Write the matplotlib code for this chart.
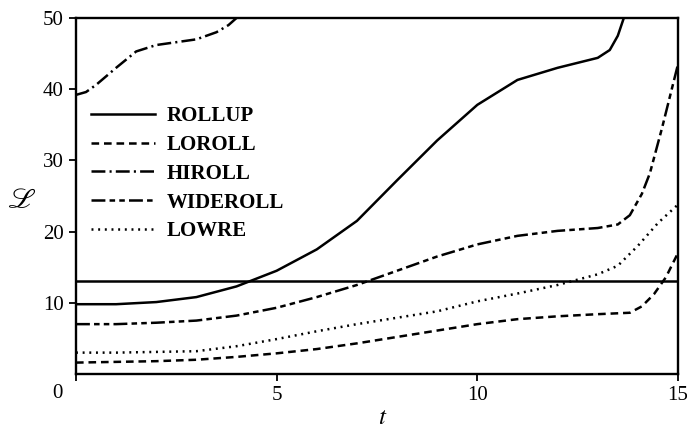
"""
plot.py - L(t) curves for the roll-up runs
"""

import matplotlib
matplotlib.use("Agg")
import matplotlib.pyplot as plt

#============================================
# DATA
#============================================

t_rollup = [0, 1, 2, 3, 4, 5, 6, 7, 8, 9, 10, 11, 12, 12.5, 13, 13.3, 13.5, 13.65, 13.8]
rollup = [9.8, 9.8, 10.1, 10.8, 12.3, 14.5, 17.5, 21.5, 27.2, 32.8, 37.8, 41.3, 43.0, 43.7, 44.4, 45.5, 47.5, 50, 52]

t_loroll = [0, 1, 2, 3, 4, 5, 6, 7, 8, 9, 10, 11, 12, 13, 13.8, 14.1, 14.4, 14.7, 15]
loroll = [1.6, 1.7, 1.8, 2.0, 2.4, 2.9, 3.5, 4.3, 5.2, 6.1, 7.0, 7.7, 8.1, 8.4, 8.6, 9.5, 11.2, 13.6, 17.0]

t_hiroll = [0, 0.25, 0.5, 1, 1.5, 2, 2.5, 3, 3.5, 3.8, 4.0, 4.3]
hiroll = [39.2, 39.6, 40.6, 43.0, 45.3, 46.2, 46.6, 47.0, 48.0, 49.0, 50.0, 52.0]

t_wideroll = [0, 1, 2, 3, 4, 5, 6, 7, 8, 9, 10, 11, 12, 13, 13.5, 13.8, 14.1, 14.3, 14.6, 15]
wideroll = [7.0, 7.0, 7.2, 7.5, 8.2, 9.3, 10.8, 12.5, 14.5, 16.5, 18.2, 19.4, 20.1, 20.5, 21.0, 22.3, 25.3, 28.2, 34.5, 43.5]

t_lowre = [0, 1, 2, 3, 4, 5, 6, 7, 8, 9, 10, 11, 12, 13, 13.5, 14, 14.5, 15]
lowre = [3.0, 3.0, 3.1, 3.2, 3.9, 4.9, 6.0, 7.0, 7.9, 8.8, 10.2, 11.3, 12.5, 14.0, 15.2, 18.0, 21.2, 23.8]

threshold = 13.0

x_ticks = [0, 5, 10, 15]
x_labels = ['', '5', '10', '15']
y_ticks = [10, 20, 30, 40, 50]

#============================================
# STYLE
#============================================

plt.rcParams['font.family'] = ['Liberation Serif', 'DejaVu Serif']
plt.rcParams['mathtext.fontset'] = 'stix'
plt.rcParams['lines.scale_dashes'] = False

LW = 1.8

#============================================
# PLOT
#============================================

fig = plt.figure(figsize=(6.87, 4.28), dpi=100)
ax = fig.add_axes([0.1106, 0.1262, 0.8763, 0.8318])

ax.plot(t_rollup, rollup, color='black', lw=LW, ls='-', label='ROLLUP')
ax.plot(t_loroll, loroll, color='black', lw=LW, ls=(0, (5.5, 3.5)), label='LOROLL')
ax.plot(t_hiroll, hiroll, color='black', lw=LW, ls=(0, (10, 3, 1.5, 3)), label='HIROLL')
ax.plot(t_wideroll, wideroll, color='black', lw=LW, ls=(0, (10, 3, 4, 3, 4, 3)), label='WIDEROLL')
ax.plot(t_lowre, lowre, color='black', lw=LW, ls=(0, (1.4, 3.4)), label='LOWRE')

ax.axhline(threshold, color='black', lw=LW)

ax.set_xlim(0, 15)
ax.set_ylim(0, 50)

ax.set_xticks(x_ticks)
ax.set_xticklabels(x_labels)
ax.set_yticks(y_ticks)
ax.tick_params(direction='out', length=5, width=1.3, labelsize=15, pad=4)

# single "0" sitting in the corner
ax.annotate('0', xy=(0, 0), xytext=(-19, -20), textcoords='offset pixels',
            ha='center', va='center', fontsize=15)

for s in ax.spines.values():
    s.set_linewidth(1.7)

ax.set_xlabel('$t$', fontsize=18, va='top')
ax.xaxis.set_label_coords(0.51, -0.093)
ax.set_ylabel(r'$\mathscr{L}$', fontsize=21, rotation=0, va='center', ha='center')
ax.yaxis.set_label_coords(-0.09, 0.487)

leg = ax.legend(loc='upper left', bbox_to_anchor=(0.0, 0.793), frameon=False,
                fontsize=15, handlelength=3.1, handletextpad=0.55,
                labelspacing=0.42, borderaxespad=0.3)
for txt in leg.get_texts():
    txt.set_fontweight('bold')

fig.savefig('out.png', dpi=100)
print("saved out.png")
